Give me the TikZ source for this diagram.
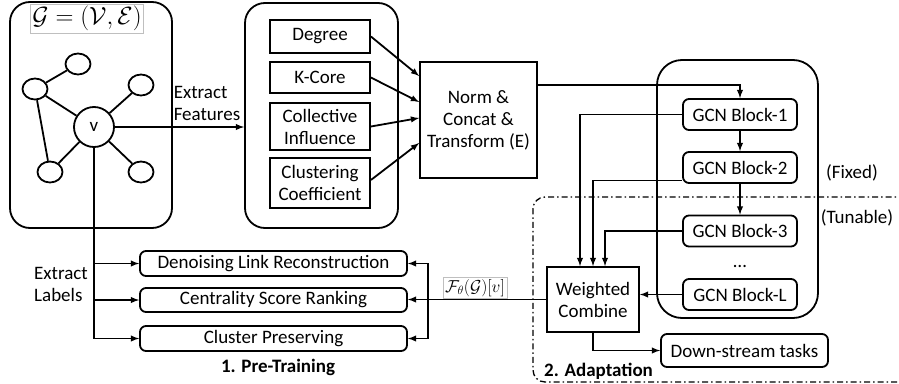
\documentclass[tikz,border=0pt]{standalone}
\usepackage{fontspec}
\setmainfont{Carlito}
\usetikzlibrary{calc,shapes.geometric}
\newcommand\bfont{\fontsize{19}{22}\selectfont}

\begin{document}
\begin{tikzpicture}[x=1pt, y=-1pt, line width=1.8pt,
      frame/.style={draw, rounded corners=20pt},
      block/.style={draw, rounded corners=6pt, font=\bfont, align=center, inner sep=2pt},
      feat/.style={draw, font=\bfont, align=center, minimum width=100pt, inner sep=2pt},
      vert/.style={ellipse, draw, minimum width=25pt, minimum height=21pt, inner sep=0pt},
      conn/.style={>=latex, ->},
      lbl/.style={font=\bfont, align=left},
      mathbox/.style={draw=gray!50, line width=0.6pt, inner sep=2pt},
      tunable/.style={line width=1.3pt, dash pattern=on 6pt off 3pt on 1.5pt off 3pt, rounded corners=12pt}
    ]
    \useasboundingbox (0,0) rectangle (899,383);

    \node[frame, minimum width=162pt, minimum height=226pt] (gbox) at (91,115) {};
    \node[mathbox] (gname) at (87,18.5) {\Huge$\mathcal{G}=(\mathcal{V},\mathcal{E})$};
    \node[circle, draw, minimum size=40pt, font=\bfont, inner sep=0pt] (v) at (94,127) {v};
    \node[vert] (u1) at (78,64) {};
    \node[vert] (u2) at (35,89) {};
    \node[vert] (u3) at (141,85) {};
    \node[vert] (u4) at (50,172) {};
    \node[vert] (u5) at (141,172) {};
    \draw (u1) -- (u2) (u2) -- (v) (u2) -- (u4) (v) -- (u3) (v) -- (u4) (v) -- (u5);

    \node[frame, minimum width=153pt, minimum height=225pt] (fbox) at (321.5,115.5) {};
    \node[feat, minimum height=33pt] (deg) at (320,36.5) {Degree};
    \node[feat, minimum height=31pt] (kc) at (320,77.5) {K-Core};
    \node[feat, minimum height=47pt] (ci) at (320,126.5) {Collective\\Influence};
    \node[feat, minimum height=50pt] (cc) at (320,183) {Clustering\\Coefficient};
    \node[feat, minimum width=117pt, minimum height=116pt] (norm) at (478.5,120) {Norm \&\\Concat \&\\Transform (E)};

    \draw[conn] (v.east) -- (v.east -| fbox.west);
    \node[lbl] (xf) at (207,103) {Extract\\Features};

    \draw[conn] (deg.east) -- ([yshift=44pt]norm.west);
    \draw[conn] (kc.east) -- ([yshift=18pt]norm.west);
    \draw[conn] (ci.east) -- ([yshift=2pt]norm.west);
    \draw[conn] ([yshift=3pt]cc.east) -- ([yshift=-23pt]norm.west);

    \node[frame, rounded corners=25pt, minimum width=161pt, minimum height=258pt] (gcn) at (737.5,189) {};
    \node[block, minimum width=114pt, minimum height=31pt] (g1) at (740,114.5) {GCN Block-1};
    \node[block, minimum width=114pt, minimum height=31pt] (g2) at (740,167.5) {GCN Block-2};
    \node[block, minimum width=114pt, minimum height=31pt] (g3) at (740,231) {GCN Block-3};
    \node[font=\bfont] (dots) at (740,266) {\dots};
    \node[block, minimum width=114pt, minimum height=31pt] (gL) at (740,294.5) {GCN Block-L};
    \node[lbl] (fixed) at (852,173) {(Fixed)};
    \node[lbl] (tune) at (857,218) {(Tunable)};

    \draw[conn] ([yshift=35pt]norm.east) -| (g1.north);
    \draw[conn] (g1) -- (g2);
    \draw[conn] (g2) -- (g3);

    \draw[tunable] (905,197) -- (533,197) -- (533,382) -- (905,382);

    \node[feat, minimum width=92pt, minimum height=65pt] (wc) at (593,299.5) {Weighted\\Combine};
    \draw[conn] (g1.west) -| ([xshift=-13pt]wc.north);
    \draw[conn] ([yshift=-13pt]g2.west) -| (wc.north);
    \draw[conn] (g3.west) -| ([xshift=12pt]wc.north);
    \draw[conn] (gL.west) -- (gL.west -| wc.east);

    \node[block, minimum width=167pt, minimum height=33pt] (ds) at (744.5,350.5) {Down-stream tasks};
    \draw[conn] (wc.south) |- (ds.west);

    \node[block, minimum width=267pt, minimum height=25pt] (t1) at (273.5,263.5) {Denoising Link Reconstruction};
    \node[block, minimum width=267pt, minimum height=24pt] (t2) at (273.5,300) {Centrality Score Ranking};
    \node[block, minimum width=267pt, minimum height=25pt] (t3) at (273.5,338.5) {Cluster Preserving};

    \draw[conn] (wc.west) -- (wc.west -| t2.east);
    \coordinate (split) at (428,300);
    \draw[conn] (split) |- (t1.east);
    \draw[conn] (split) |- (t3.east);
    \node[mathbox] (fout) at (475,288) {\LARGE$\mathcal{F}_\theta(\mathcal{G})[v]$};

    \draw[conn] (v.south) |- (t3.west);
    \draw[conn] (v.south |- t1.west) -- (t1.west);
    \draw[conn] (v.south |- t2.west) -- (t2.west);
    \node[lbl] (xl) at (61,284) {Extract\\Labels};

    \node[font=\bfont\bfseries] (pre) at (278,367) {1. Pre-Training};
    \node[font=\bfont\bfseries] (ada) at (598.5,371) {2. Adaptation};
  \end{tikzpicture}
\end{document}
